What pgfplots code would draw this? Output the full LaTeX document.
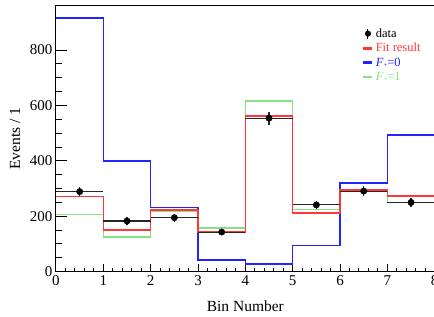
\documentclass[border=0pt]{standalone}
\usepackage{pgfplots}
\pgfplotsset{compat=1.18}
\usepackage{fontspec}
\setmainfont{Liberation Serif}
\definecolor{hred}{RGB}{255,55,55}
\definecolor{hblue}{RGB}{35,35,255}
\definecolor{hgreen}{RGB}{135,225,135}
\pgfplotsset{
  lineleg/.style={legend image code/.code={\draw[##1, line width=2.6pt] (0pt,0pt)--(9pt,0pt);}},
  dataleg/.style={legend image code/.code={\draw[black, line width=1pt] (4.5pt,-5pt)--(4.5pt,5pt); \fill[black] (4.5pt,0pt) circle (2.8pt);}},
}
\begin{document}
\begin{tikzpicture}
\begin{axis}[
  scale only axis, width=378.7pt, height=266pt,
  xmin=0, xmax=8, ymin=0, ymax=960,
  xtick={0,1,...,8}, ytick={0,200,...,800},
  minor x tick num=4, minor y tick num=3,
  tick align=inside, xtick pos=bottom, ytick pos=left,
  axis line style={black, line width=1pt},
  tick style={black, line width=1pt},
  major tick length=11pt, minor tick length=6pt,
  xtick style={/pgfplots/major tick length=8pt, /pgfplots/minor tick length=4pt},
  ticklabel style={font=\fontsize{15}{17}\selectfont},
  /pgf/number format/assume math mode=true,
  xlabel={Bin Number}, ylabel={Events / 1},
  label style={font=\fontsize{15.5}{17}\selectfont},
  xlabel style={at={(axis description cs:0.5,-0.129)}, anchor=center},
  ylabel style={at={(axis description cs:-0.108,0.5)}, anchor=center},
  legend style={draw=none, fill=none, at={(0.80,0.93)}, anchor=north west,
    font=\fontsize{12.5}{14}\selectfont, row sep=0.5pt},
  legend cell align=left,
]
\addplot[const plot, hblue, line width=1.6pt, forget plot] coordinates {(0,915)(1,399)(2,232)(3,42)(4,28)(5,94)(6,319)(7,494)(8,494)};
\addplot[const plot, hgreen, line width=1.6pt, forget plot] coordinates {(0,207)(1,126)(2,219)(3,157)(4,616)(5,224)(6,290)(7,250)(8,250)};
\addplot[const plot, hred, line width=1.6pt, forget plot] coordinates {(0,271)(1,150)(2,223)(3,143)(4,562)(5,211)(6,294)(7,273)(8,273)};
\addplot[only marks, mark=*, mark size=3.2pt, black, forget plot,
  error bars/.cd, x dir=both, x explicit, y dir=both, y explicit,
  error mark=none, error bar style={line width=1.1pt, black!85}]
  table[x=x, y=y, x error=ex, y error=ey] {
x y ex ey
0.5 289 0.5 17
1.5 183 0.5 13.5
2.5 195 0.5 14
3.5 143 0.5 12
4.5 554 0.5 23.5
5.5 241 0.5 15.5
6.5 291 0.5 17
7.5 250 0.5 15.8
};
\addlegendimage{dataleg}
\addlegendentry{data}
\addlegendimage{lineleg, hred}
\addlegendentry{\textcolor{hred}{Fit result}}
\addlegendimage{lineleg, hblue}
\addlegendentry{\textcolor{hblue}{\textit{F}\raisebox{-0.25ex}{\scriptsize +}=0}}
\addlegendimage{lineleg, hgreen}
\addlegendentry{\textcolor{hgreen}{\textit{F}\raisebox{-0.25ex}{\scriptsize +}=1}}
\end{axis}
\pgfresetboundingbox
\path[use as bounding box] ([xshift=-56pt,yshift=-45.3pt]current axis.south west) rectangle ([xshift=-0.7pt,yshift=5.7pt]current axis.north east);
\end{tikzpicture}
\end{document}
